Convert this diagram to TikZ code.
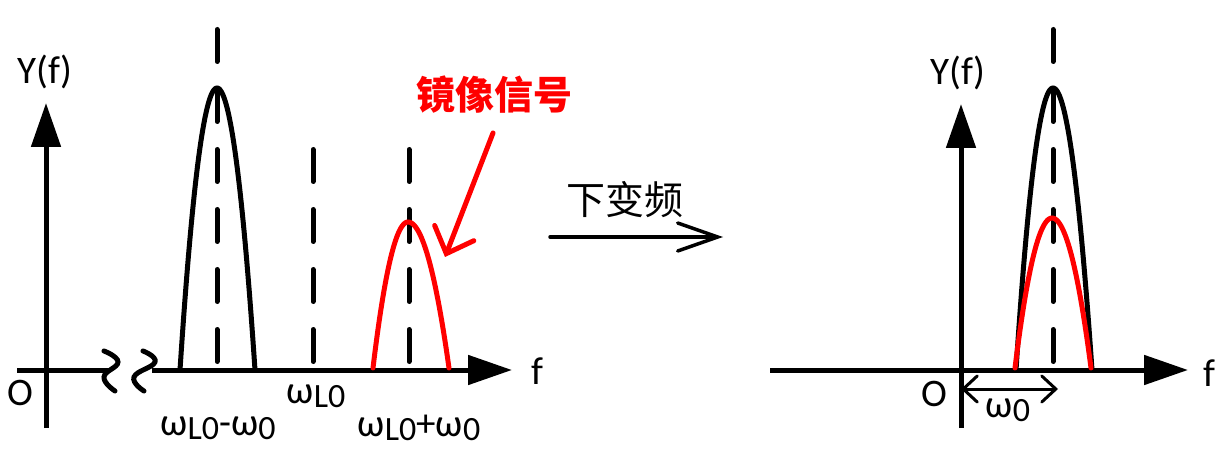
\documentclass[tikz,border=0pt]{standalone}
\usepackage{fontspec}
\setmainfont{Carlito}
\newfontfamily\cjk{Noto Sans CJK SC}
\usetikzlibrary{arrows.meta}
\newcommand\lbl{\fontsize{39pt}{42pt}\selectfont}
\newcommand\sbs[1]{\raisebox{-4pt}{\fontsize{34pt}{36pt}\selectfont #1}}
\begin{document}
\begin{tikzpicture}[x=1pt,y=-1pt,
  axis/.style={line width=5pt,-{Triangle[length=44pt,width=29pt]}},
  plain/.style={line width=5pt},
  dashv/.style={line width=5pt,dash pattern=on 32pt off 28pt,line cap=round},
  curve/.style={line width=5pt,line cap=round,line join=round},
  brk/.style={line width=5pt,line cap=round},
  txt/.style={inner sep=0pt,font=\lbl},
  cjktxt/.style={inner sep=0pt,font=\cjk\fontsize{39pt}{42pt}\selectfont},
  openarrow/.style={line width=3.5pt,line cap=round,-{Straight Barb[length=40pt,width=28pt,line cap=round]}},
  redarrow/.style={red,line width=5pt,line cap=round,-{Straight Barb[length=22pt,width=42pt,line cap=round]}},
  dimarrow/.style={line width=3pt,{Straight Barb[length=14pt,width=26pt,line cap=round]}-{Straight Barb[length=14pt,width=26pt,line cap=round]}}
]
\useasboundingbox (0,0) rectangle (1223,462);

% ---------- left diagram ----------
\coordinate (Lv0) at (46,428);
\coordinate (Lv1) at (46,103);
\coordinate (Lh0) at (17,370);
\coordinate (Lh1) at (110,370);
\coordinate (Lh2) at (152,370);
\coordinate (Lh3) at (512,370);
\draw[axis] (Lv0) -- (Lv1);
\draw[plain] (Lh0) -- (Lh1);
\draw[axis] (Lh2) -- (Lh3);
% break marks
\draw[brk] plot[smooth,tension=0.8] coordinates {(104,351) (118,362) (104,377) (115,391)};
\draw[brk] plot[smooth,tension=0.8] coordinates {(143,351) (155,362) (134,377) (144,391)};

% dashed lines
\draw[dashv] (217,29.5) -- (217,366);
\draw[dashv] (313,149.5) -- (313,366);
\draw[dashv] (409,149.5) -- (409,366);

% peaks
\draw[curve] plot[domain=-37:0,samples=40] ({217+\x},{88+282/1369*\x*\x})
  -- plot[domain=0:38,samples=40] ({217+\x},{88+282/1444*\x*\x});
\draw[curve,red] plot[domain=-35:0,samples=40] ({408+\x},{222+146/1225*\x*\x})
  -- plot[domain=0:41,samples=40] ({408+\x},{222+146/1681*\x*\x});

% labels
\node[txt] (Ly) at (45,72) {Y(f)};
\node[txt] (Lo) at (20,393) {O};
\node[txt] (Lf) at (537,371) {f};
\node[txt] (l1) at (218,428) {ω\sbs{L0}-ω\sbs{0}};
\node[txt] (l2) at (316,396) {ω\sbs{L0}};
\node[txt] (l3) at (419,428) {ω\sbs{L0}+ω\sbs{0}};

\node[cjktxt,red,font=\cjk\bfseries\fontsize{39pt}{42pt}\selectfont] (img) at (494,95) {镜像信号};
\coordinate (ra1) at (493,133);
\coordinate (ra2) at (445,257);
\draw[redarrow] (ra1) -- (ra2);

% ---------- middle ----------
\node[cjktxt] (dv) at (625,200) {下变频};
\coordinate (da1) at (550,237);
\coordinate (da2) at (723,237);
\draw[openarrow] (da1) -- (da2);

% ---------- right diagram ----------
\coordinate (Rv0) at (961,428);
\coordinate (Rv1) at (961,104);
\coordinate (Rh0) at (770,370);
\coordinate (Rh1) at (1188,370);
\draw[axis] (Rv0) -- (Rv1);
\draw[axis] (Rh0) -- (Rh1);
\draw[dashv] (1053,29.5) -- (1053,366);
\draw[curve] plot[domain=-37:0,samples=40] ({1053+\x},{88+282/1369*\x*\x})
  -- plot[domain=0:39,samples=40] ({1053+\x},{88+282/1521*\x*\x});
\draw[curve,red] plot[domain=-37:0,samples=40] ({1052+\x},{218+150/1369*\x*\x})
  -- plot[domain=0:39,samples=40] ({1052+\x},{218+150/1521*\x*\x});

\node[txt] (Ry) at (958,73) {Y(f)};
\node[txt] (Ro) at (934,394) {O};
\node[txt] (Rf) at (1209,373) {f};
\coordinate (w0a) at (961,389);
\coordinate (w0b) at (1058,389);
\draw[dimarrow] (w0a) -- (w0b);
\node[txt] (w0) at (1008,410) {ω\sbs{0}};
\end{tikzpicture}
\end{document}
